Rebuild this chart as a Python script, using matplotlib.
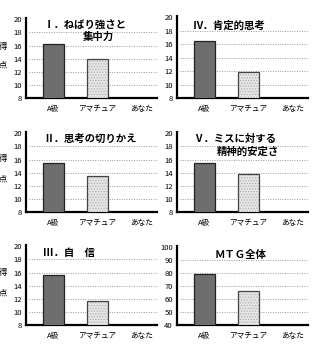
import matplotlib.pyplot as plt
import numpy as np

plt.rcParams['font.family'] = ['Noto Sans CJK JP', 'DejaVu Sans']
plt.rcParams['hatch.linewidth'] = 0.6

categories = ['A級', 'アマチュア', 'あなた']

# score per panel: A級, アマチュア (あなた is left blank)
titles = [
    ['Ⅰ．ねばり強さと', '集中力'],
    ['Ⅳ．肯定的思考'],
    ['Ⅱ．思考の切りかえ'],
    ['Ⅴ．ミスに対する', '精神的安定さ'],
    ['Ⅲ．自　信'],
    ['ＭＴＧ全体'],
]
a_kyu = [16.3, 16.5, 15.5, 15.4, 15.7, 79]
amateur = [14.0, 11.8, 13.5, 13.8, 11.6, 66]
y_ticks_small = [8, 10, 12, 14, 16, 18, 20]
y_ticks_total = [40, 50, 60, 70, 80, 90, 100]

W, H = 319, 351
fig = plt.figure(figsize=(W / 100, H / 100), dpi=100)

# pixel boxes (x0, y0, x1, y1) of each plot area
boxes = [
    (26, 18, 157, 98),
    (177, 16, 308, 98),
    (26, 132, 157, 212),
    (177, 132, 308, 212),
    (26, 245, 157, 325),
    (177, 246, 308, 325),
]
# title text positions in pixels
title_pos = [
    [(44, 25), (83, 37)],
    [(193, 26)],
    [(43, 139)],
    [(193, 139), (217, 152)],
    [(43, 253)],
    [(215, 255)],
]

for i in range(6):
    x0, y0, x1, y1 = boxes[i]
    ax = fig.add_axes([x0 / W, 1 - y1 / H, (x1 - x0) / W, (y1 - y0) / H])
    ticks = y_ticks_total if i == 5 else y_ticks_small
    x = np.arange(len(categories))
    ax.bar(x[0], a_kyu[i], width=0.48, color='#6e6e6e', edgecolor='#222222',
           linewidth=0.9, zorder=3)
    # stippled fill, then outline on top
    ax.bar(x[1], amateur[i], width=0.48, color='#e6e6e6', edgecolor='#b0b0b0',
           linewidth=0, hatch='......', zorder=3)
    ax.bar(x[1], amateur[i], width=0.48, color='none', edgecolor='#444444',
           linewidth=0.9, zorder=4)
    ax.set_xlim(-0.62, 2.35)
    ax.set_ylim(ticks[0], ticks[-1] + (ticks[1] - ticks[0]) * 0.1)
    ax.set_yticks(ticks)
    ax.set_xticks(x)
    ax.set_xticklabels(categories, fontsize=5.5)
    ax.tick_params(axis='y', length=0, labelsize=5.5, pad=3)
    ax.tick_params(axis='x', length=0, labelsize=5.5, pad=5)
    for t in ticks[1:-1]:
        ax.axhline(t, xmin=0.02, color='#999999', linestyle=(0, (1, 1.5)),
                   linewidth=0.7, zorder=1)
    for s in ['top', 'right']:
        ax.spines[s].set_visible(False)
    ax.spines['left'].set_linewidth(1.6)
    ax.spines['bottom'].set_linewidth(1.6)
    for txt, (px, py) in zip(titles[i], title_pos[i]):
        fig.text(px / W, 1 - py / H, txt, fontsize=7.5, fontweight='bold',
                 ha='left', va='center')

# 得点 labels on the left column
for yc in [(47, 65), (158, 179), (272, 293)]:
    fig.text(3 / W, 1 - yc[0] / H, '得', fontsize=6, ha='center', va='center')
    fig.text(3 / W, 1 - yc[1] / H, '点', fontsize=6, ha='center', va='center')

fig.savefig('out.png', dpi=100, facecolor='white')
